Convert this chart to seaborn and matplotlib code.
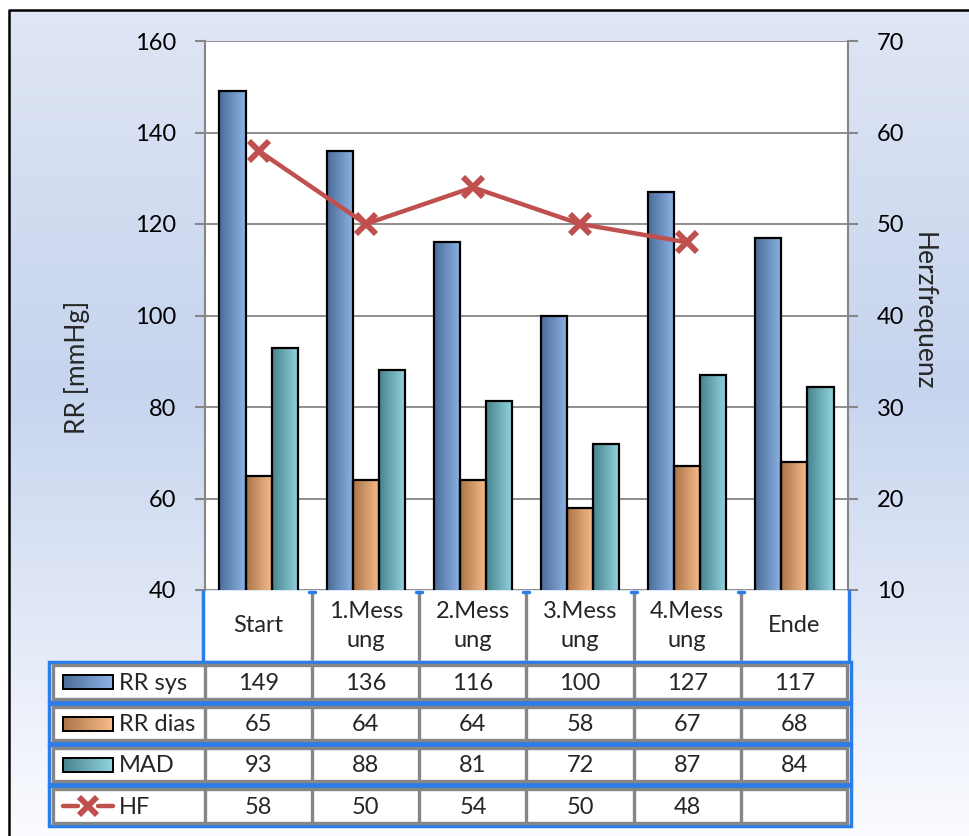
import numpy as np
import pandas as pd
import matplotlib
matplotlib.use("Agg")
import matplotlib.pyplot as plt
import seaborn as sns
from matplotlib.colors import to_rgb
from matplotlib.patches import Rectangle

# data
categories = ["Start", "1.Messung", "2.Messung", "3.Messung", "4.Messung", "Ende"]
header_labels = ["Start", "1.Mess\nung", "2.Mess\nung", "3.Mess\nung", "4.Mess\nung", "Ende"]
rr_sys = [149, 136, 116, 100, 127, 117]
rr_dias = [65, 64, 64, 58, 67, 68]
mad = [93, 88, 81.3, 72, 87, 84.3]
hf = [58, 50, 54, 50, 48, np.nan]
bar_series = ["RR sys", "RR dias", "MAD"]
line_series = "HF"

W, H = 969, 836
sns.set_theme(style="white")
plt.rcParams["font.family"] = ["Lato", "DejaVu Sans"]
FS = 17

grad_cols = {
    "RR sys": ("#4b6c98", "#8db4e6"),
    "RR dias": ("#ab7448", "#f8bd8c"),
    "MAD": ("#47848d", "#93d4e0"),
}
hf_color = "#c0504d"
blue_sel = "#2b7de9"
gray = "#868686"


def hgrad(c0, c1, n=64):
    a, b = np.array(to_rgb(c0)), np.array(to_rgb(c1))
    t = np.linspace(0, 1, n)[:, None]
    return (a + (b - a) * t)[None, :, :]


fig = plt.figure(figsize=(W / 100, H / 100), dpi=100)
fig.patch.set_facecolor("white")

# background gradient inside the black frame
bg = fig.add_axes([0, 0, 1, 1], zorder=-10)
bg.set_xlim(0, W)
bg.set_ylim(H, 0)
bg.axis("off")
ys = np.linspace(0, 1, 200)
stops_y = [0, 0.45, 1]
stops_c = np.array([to_rgb("#dfe6f4"), to_rgb("#c6d4ee"), to_rgb("#fbfcff")])
vg = np.stack([np.interp(ys, stops_y, stops_c[:, k]) for k in range(3)], axis=1)[:, None, :]
bg.imshow(vg, extent=(9, W + 5, H + 5, 10), aspect="auto")
bg.plot([9, 9, W + 5], [H + 5, 10, 10], color="black", lw=1.8)


def px_axes(x0, y0, x1, y1, **kw):
    return fig.add_axes([x0 / W, 1 - y1 / H, (x1 - x0) / W, (y1 - y0) / H], **kw)


ax = px_axes(205, 41, 848, 590)
df = pd.DataFrame({
    "Messung": categories * 3,
    "Serie": [s for s in bar_series for _ in categories],
    "Wert": rr_sys + rr_dias + mad,
})
sns.barplot(data=df, x="Messung", y="Wert", hue="Serie", order=categories,
            hue_order=bar_series, width=0.73, gap=0, saturation=1,
            edgecolor="black", linewidth=1.6, legend=False, ax=ax)

# gradient fill for each bar
for i, p in enumerate(ax.patches):
    name = bar_series[i // len(categories)]
    x0, w, h = p.get_x(), p.get_width(), p.get_height()
    ax.imshow(hgrad(*grad_cols[name]), extent=(x0, x0 + w, 0, h),
              aspect="auto", zorder=1.5, interpolation="bilinear")
    p.set_facecolor("none")
    p.set_zorder(2)

ax.set_xlim(-0.5, len(categories) - 0.5)
ax.set_ylim(40, 160)
ax.set_yticks(range(40, 161, 20))
ax.yaxis.grid(True, color=gray, lw=1.3)
ax.set_axisbelow(True)
ax.set_xlabel("")
ax.set_ylabel("")
ax.tick_params(axis="x", bottom=False, labelbottom=False)
ax.tick_params(axis="y", left=True, length=7, width=1.5, color=gray,
               labelsize=FS, pad=14, labelcolor="black")
for s in ["top", "bottom", "right"]:
    ax.spines[s].set_visible(False)
ax.spines["left"].set_color(gray)
ax.spines["left"].set_linewidth(1.5)

ax2 = ax.twinx()
sns.lineplot(x=np.arange(len(categories)), y=hf, ax=ax2, color=hf_color, lw=3.2,
             marker="x", markersize=15, markeredgewidth=4.2, markeredgecolor=hf_color,
             legend=False)
ax2.set_ylim(10, 70)
ax2.set_yticks(range(10, 71, 10))
ax2.set_xlim(-0.5, len(categories) - 0.5)
ax2.set_ylabel("")
ax2.tick_params(axis="y", right=True, length=7, width=1.5, color=gray,
                labelsize=FS, pad=14, labelcolor="black")
ax2.tick_params(axis="x", bottom=False, labelbottom=False)
for s in ["top", "bottom", "left"]:
    ax2.spines[s].set_visible(False)
ax2.spines["right"].set_color(gray)
ax2.spines["right"].set_linewidth(1.5)

fig.text(77 / W, 1 - 367 / H, "RR [mmHg]", rotation=90, ha="center", va="center", fontsize=19)
fig.text(923 / W, 1 - 311 / H, "Herzfrequenz", rotation=270, ha="center", va="center", fontsize=19)

# data table below the plot
tab = fig.add_axes([0, 0, 1, 1], zorder=5)
tab.set_xlim(0, W)
tab.set_ylim(H, 0)
tab.axis("off")
tab.patch.set_visible(False)

n = len(categories)
cw = (848 - 205) / n
edges = [205 + cw * k for k in range(n + 1)]
centers = [205 + cw * (k + 0.5) for k in range(n)]

tab.add_patch(Rectangle((205, 591), 643, 69, facecolor="white", edgecolor="none"))
for x in edges[1:-1]:
    tab.plot([x, x], [593, 659], color=gray, lw=2.4)
    tab.plot([x - 3, x + 3], [592, 592], color=blue_sel, lw=2.5, solid_capstyle="round")
tab.plot([203, 203], [591, 660], color=blue_sel, lw=2.5)
tab.plot([849, 849], [591, 660], color=blue_sel, lw=2.5)
for c, lab in zip(centers, header_labels):
    tab.text(c, 626, lab, ha="center", va="center", fontsize=FS, linespacing=1.45)

rows = [(662, 702), (704, 743), (745, 784), (786, 826)]
row_values = [rr_sys, rr_dias, mad, hf]
row_names = bar_series + [line_series]
for (y0, y1), name, vals in zip(rows, row_names, row_values):
    tab.add_patch(Rectangle((49, y0), 802, y1 - y0, facecolor="white",
                            edgecolor=blue_sel, lw=2.5))
    tab.add_patch(Rectangle((53, y0 + 3), 794, y1 - y0 - 6, facecolor="none",
                            edgecolor=gray, lw=2.4))
    for x in edges[:-1]:
        tab.plot([x, x], [y0 + 3, y1 - 3], color=gray, lw=2.4)
    yc = (y0 + y1) / 2
    for c, v in zip(centers, vals):
        txt = "" if np.isnan(v) else f"{v:.0f}"
        tab.text(c, yc + 1, txt, ha="center", va="center", fontsize=FS)
    tab.text(119, yc + 1, name, ha="left", va="center", fontsize=FS)
    if name in grad_cols:
        tab.imshow(hgrad(*grad_cols[name]), extent=(63, 113, yc + 7, yc - 7),
                   aspect="auto", zorder=3, interpolation="bilinear")
        tab.add_patch(Rectangle((63, yc - 7), 50, 14, facecolor="none",
                                edgecolor="black", lw=1.4, zorder=4))
    else:
        tab.plot([63, 78], [yc, yc], color=hf_color, lw=3.2)
        tab.plot([98, 113], [yc, yc], color=hf_color, lw=3.2)
        tab.plot([88], [yc], marker="x", color=hf_color, markersize=13, mew=4.2)

tab.set_xlim(0, W)
tab.set_ylim(H, 0)

fig.savefig("out.png", dpi=100)
